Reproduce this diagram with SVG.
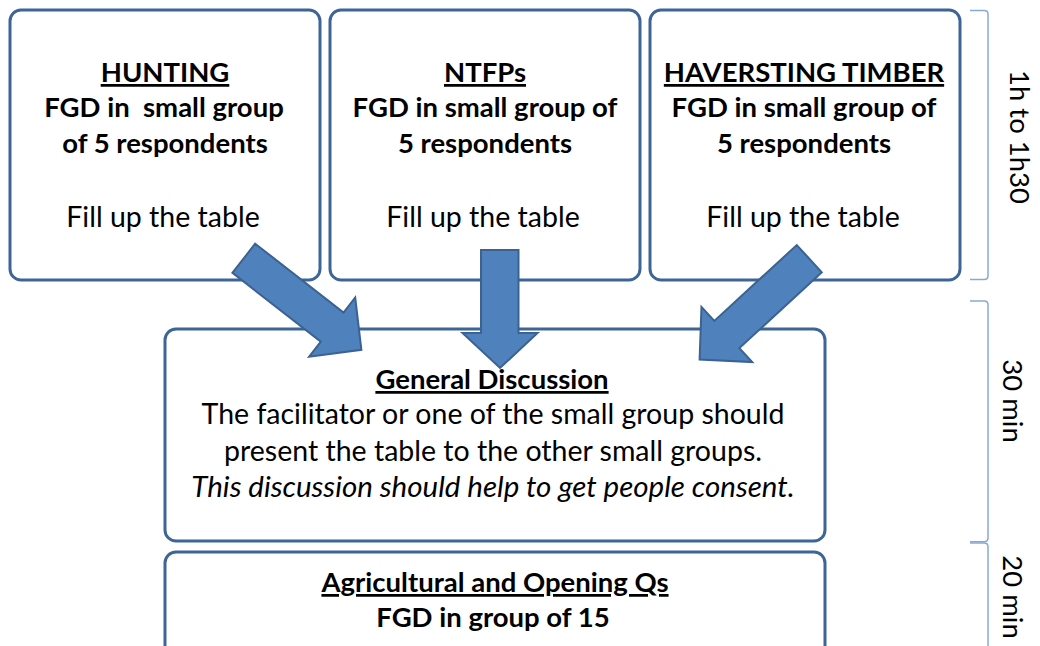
<svg xmlns="http://www.w3.org/2000/svg" width="1040" height="646" viewBox="0 0 1040 646">
<style>
.box{fill:#fff;stroke:#3d6595;stroke-width:3}
.arrow{fill:#4f81bd;stroke:#3b6290;stroke-width:2;stroke-linejoin:miter}
.br{fill:none;stroke:#86aad8;stroke-width:1.5}
text{font-family:Lato,"Liberation Sans",sans-serif;font-size:28.5px;fill:#000;text-anchor:middle}
.b{font-weight:bold;font-size:27.5px}
.u{text-decoration:underline}
.i{font-style:italic;font-size:29.5px}
.side{font-size:27.5px}
</style>
<defs>
<path id="diag" d="M0,-18.5 H112 V-37.5 L149,0 L112,37.5 V18.5 H0 Z"/>
</defs>
<rect width="1040" height="646" fill="#fff"/>
<g id="hunting">
<rect class="box" x="10" y="10" width="310" height="270" rx="11"/>
<text class="b u" x="165" y="82">HUNTING</text>
<text class="b" x="164" y="117">FGD in&#160; small group</text>
<text class="b" x="165" y="153">of 5 respondents</text>
<text x="163" y="227">Fill up the table</text>
</g>
<g id="ntfps">
<rect class="box" x="330" y="10" width="310" height="270" rx="11"/>
<text class="b u" x="485" y="82">NTFPs</text>
<text class="b" x="485" y="117">FGD in small group of</text>
<text class="b" x="485" y="153">5 respondents</text>
<text x="483" y="227">Fill up the table</text>
</g>
<g id="timber">
<rect class="box" x="650" y="10" width="310" height="270" rx="11"/>
<text class="b u" x="804" y="82">HAVERSTING TIMBER</text>
<text class="b" x="804" y="117">FGD in small group of</text>
<text class="b" x="804" y="153">5 respondents</text>
<text x="803" y="227">Fill up the table</text>
</g>
<g id="general">
<rect class="box" x="165" y="329" width="660" height="212" rx="11"/>
<text class="b u" x="492" y="389">General Discussion</text>
<text x="493" y="424">The facilitator or one of the small group should</text>
<text x="493" y="461">present the table to the other small groups.</text>
<text class="i" x="493" y="497">This discussion should help to get people consent.</text>
</g>
<g id="agricultural">
<rect class="box" x="165" y="552" width="660" height="110" rx="11"/>
<text class="b u" x="495" y="592"> Agricultural and Opening Qs</text>
<text class="b" x="493" y="627">FGD in group of 15</text>
</g>
<g id="connectors">
<use href="#diag" class="arrow" transform="translate(243.8,258.3) rotate(37.9)"/>
<path class="arrow" d="M481,250 H518.5 V333 H537.5 L500,368 L462.5,333 H481 Z"/>
<use href="#diag" class="arrow" transform="translate(809.3,258.7) rotate(137.4)"/>
</g>
<g id="timing">
<path class="br" d="M970,10.5 H984 Q988,10.5 988,14 V276 Q988,279.5 984,279.5 H970"/>
<path class="br" d="M970,301 H984 Q988,301 988,304.5 V538 Q988,541.7 984,541.7 H970"/>
<path class="br" d="M970,543 H984 Q988,543 988,546.5 V646"/>
<text class="side" transform="translate(1010,137) rotate(90)">1h to 1h30</text>
<text class="side" transform="translate(1003,401) rotate(90)">30 min</text>
<text class="side" transform="translate(1003,597) rotate(90)">20 min</text>
</g>
</svg>
